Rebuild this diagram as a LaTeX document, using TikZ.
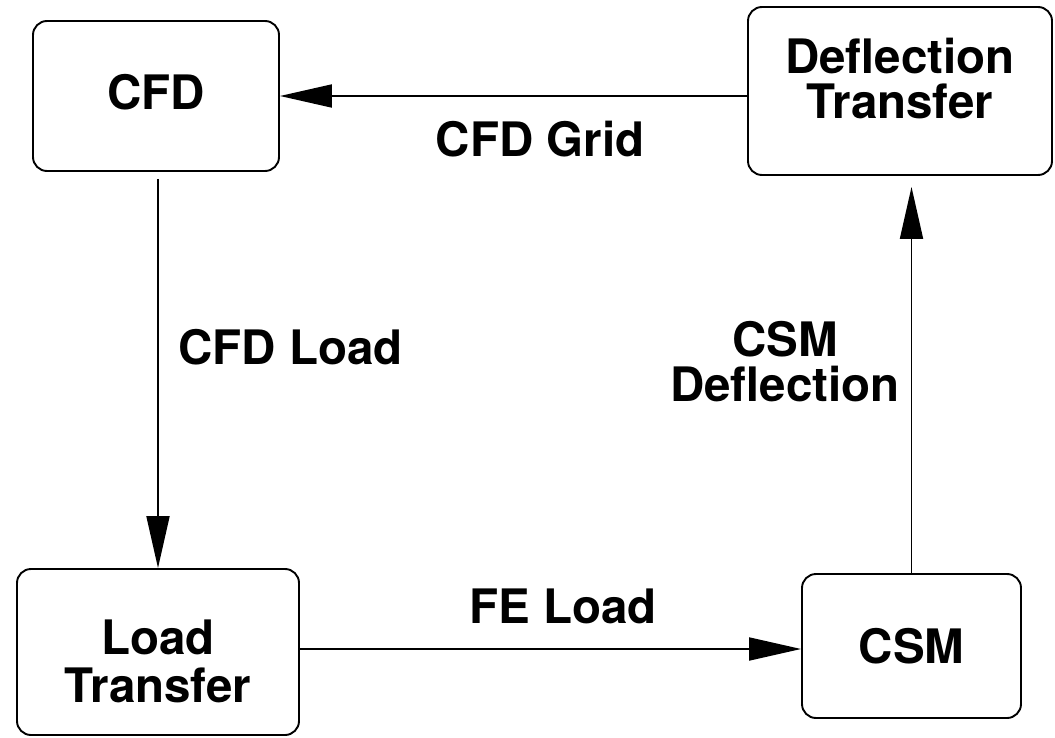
\documentclass[tikz,border=0pt]{standalone}
\usepackage{fontspec}
\setmainfont{TeX Gyre Heros}
\usetikzlibrary{arrows.meta}
\tikzset{
  boxnode/.style={draw, line width=1.9pt, rounded corners=14pt, inner sep=0pt,
    align=center, font=\fontsize{47.5}{45}\selectfont\bfseries},
  lbl/.style={inner sep=0pt, align=center, font=\fontsize{47.5}{45}\selectfont\bfseries},
  arr/.style={line width=1.9pt, -{Triangle[length=52pt,width=23pt]}}
}
\begin{document}
\begin{tikzpicture}[x=1pt,y=-1pt]
\useasboundingbox (0,0) rectangle (1055,738);
\node[boxnode, minimum width=246pt, minimum height=150pt, text depth=9pt] (cfd) at (156,96) {CFD};
\node[boxnode, minimum width=304pt, minimum height=168pt, text depth=25pt] (defl) at (900,91) {Deflection\\Transfer};
\node[boxnode, minimum width=282pt, minimum height=166pt] (lt) at (158,652) {\rule{0pt}{53pt}Load\\[3pt]Transfer};
\node[boxnode, minimum width=219pt, minimum height=144pt] (csm) at (911.5,646) {CSM};

\draw[arr] (cfd.east -| defl.west) -- (cfd.east);
\draw[arr, shorten <=7pt] (lt.north |- cfd.south) -- (lt.north);
\draw[arr] ([yshift=-3pt]csm.west -| lt.east) -- ([yshift=-3pt]csm.west);
\draw[arr, shorten >=11pt] (csm.north) -- (csm.north |- defl.south);

\node[lbl] (lgrid) at (540,139) {CFD Grid};
\node[lbl, anchor=west] (lload) at (178,347) {CFD Load};
\node[lbl] (lfe) at (563,606) {FE Load};
\node[lbl] (ldefl) at (785,361.5) {CSM\\Deflection};
\end{tikzpicture}
\end{document}
